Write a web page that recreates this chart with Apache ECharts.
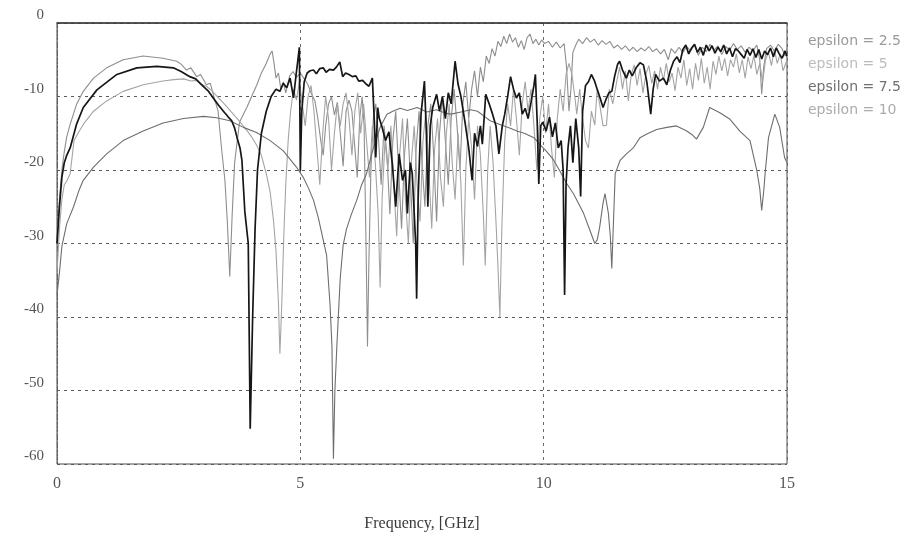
<!DOCTYPE html>
<html>
<head>
<meta charset="utf-8">
<script src="https://cdn.jsdelivr.net/npm/echarts@6/dist/echarts.min.js"></script>
<style>html,body{margin:0;padding:0;background:#fff}#c{width:916px;height:537px}</style>
</head>
<body>
<div id="c"></div>
<script>
const seriesNames = ['epsilon = 2.5', 'epsilon = 5', 'epsilon = 7.5', 'epsilon = 10'];
const xTicks = [0, 5, 10, 15];
const yTicks = [0, -10, -20, -30, -40, -50, -60];

const eps25 = [[0,-30],[0.05,-24],[0.1,-20],[0.15,-17.5],[0.2,-15.5],[0.27,-13.8],[0.4,-11.1],[0.54,-9.3],[0.75,-7.5],[1.02,-6.1],[1.36,-5.0],[1.77,-4.5],[2.18,-4.8],[2.46,-5.2],[2.55,-5.6],[2.66,-6.4],[2.75,-6.1],[2.87,-7.3],[2.95,-7.0],[3.07,-8.4],[3.15,-8.2],[3.21,-9.7],[3.31,-12],[3.38,-17],[3.45,-21.4],[3.5,-27],[3.55,-34.5],[3.6,-26],[3.65,-19],[3.75,-13.5],[3.9,-11.5],[4.0,-10],[4.1,-8.5],[4.2,-6.8],[4.3,-5.5],[4.38,-4.2],[4.42,-3.8],[4.46,-5.5],[4.5,-7.5],[4.55,-6.8],[4.6,-9],[4.65,-8],[4.7,-9.5],[4.78,-7.2],[4.85,-6.6],[4.92,-7.4],[5.0,-6.8],[5.08,-7.6],[5.15,-8.3],[5.22,-9.5],[5.3,-10.6],[5.36,-13],[5.42,-16],[5.47,-18],[5.52,-14],[5.58,-11],[5.64,-10],[5.7,-12.5],[5.76,-10.8],[5.82,-15],[5.88,-19.5],[5.94,-12],[6.0,-10.5],[6.06,-12],[6.12,-17],[6.17,-21],[6.22,-13],[6.27,-10],[6.31,-14],[6.35,-30],[6.38,-44],[6.41,-32],[6.45,-20],[6.5,-13],[6.55,-11],[6.6,-15],[6.66,-22],[6.72,-14],[6.78,-18],[6.84,-26],[6.9,-16],[6.96,-12],[7.02,-20],[7.08,-28],[7.14,-18],[7.2,-13],[7.26,-21],[7.32,-30],[7.38,-17],[7.44,-12],[7.5,-19],[7.56,-25],[7.62,-14],[7.68,-11],[7.74,-18],[7.8,-27],[7.86,-15],[7.92,-10],[7.98,-16],[8.04,-22],[8.1,-13],[8.16,-9],[8.22,-14],[8.28,-20],[8.34,-11],[8.4,-8],[8.46,-13],[8.52,-9],[8.58,-6.5],[8.64,-10],[8.7,-6],[8.76,-8],[8.82,-4.5],[8.88,-5.5],[8.94,-3.5],[9.0,-4.5],[9.06,-2.5],[9.12,-3.2],[9.18,-1.8],[9.24,-2.8],[9.3,-1.5],[9.36,-2.6],[9.42,-2],[9.48,-3.3],[9.54,-2.4],[9.6,-3.6],[9.66,-2],[9.72,-1.5],[9.78,-2.8],[9.84,-2.2],[9.9,-3],[9.96,-2.3],[10.02,-2.8],[10.1,-2.5],[10.18,-3.3],[10.26,-2.6],[10.34,-3.4],[10.42,-2.8],[10.47,-6],[10.52,-12],[10.56,-9],[10.6,-4],[10.66,-3],[10.72,-2.2],[10.8,-2.8],[10.88,-2],[10.96,-2.6],[11.04,-2.2],[11.12,-3],[11.2,-2.4],[11.28,-2.9],[11.36,-2.5],[11.44,-3.4],[11.52,-3],[11.6,-3.6],[11.68,-3.1],[11.76,-3.8],[11.84,-3.3],[11.92,-3.9],[12.0,-3.4],[12.08,-3.8],[12.16,-3.2],[12.24,-3.9],[12.32,-3.5],[12.4,-4.2],[12.48,-3.6],[12.56,-5],[12.62,-3.5],[12.7,-4.1],[12.78,-3.3],[12.86,-4],[12.94,-3.2],[13.02,-3.8],[13.1,-3],[13.18,-4.4],[13.26,-3.3],[13.34,-3.9],[13.42,-2.9],[13.5,-3.7],[13.58,-3.1],[13.66,-4.3],[13.74,-3.2],[13.82,-3.7],[13.9,-2.8],[13.98,-3.6],[14.06,-3.1],[14.14,-4],[14.22,-3.3],[14.3,-3.8],[14.38,-3],[14.44,-5],[14.48,-9.7],[14.52,-6],[14.58,-3.5],[14.66,-3],[14.74,-3.8],[14.82,-2.9],[14.9,-3.5],[14.96,-4.5],[15,-3.5]];

const eps5 = [[0,-34],[0.05,-28],[0.1,-24],[0.15,-22],[0.2,-21.5],[0.27,-20.5],[0.35,-16],[0.45,-14.8],[0.54,-13.8],[0.75,-12],[1.02,-10.6],[1.36,-9.3],[1.77,-8.4],[2.18,-7.9],[2.4,-7.7],[2.6,-7.6],[2.75,-7.9],[2.87,-7.8],[2.95,-8.3],[3.07,-8.6],[3.18,-9.2],[3.28,-9.9],[3.38,-10.6],[3.48,-11.3],[3.58,-12.1],[3.69,-12.9],[3.8,-13.8],[3.9,-14.6],[4.0,-15.5],[4.1,-16.6],[4.2,-18],[4.3,-20.5],[4.38,-23],[4.45,-27],[4.5,-31],[4.55,-38],[4.58,-45],[4.62,-38],[4.66,-29],[4.7,-22],[4.75,-16],[4.8,-12],[4.86,-9],[4.92,-10.5],[4.98,-8],[5.04,-11],[5.1,-14],[5.16,-10],[5.22,-8.5],[5.28,-12],[5.34,-17],[5.4,-22],[5.46,-15],[5.52,-10],[5.58,-13],[5.64,-20],[5.7,-15],[5.76,-11],[5.82,-14],[5.88,-11],[5.94,-9.5],[6.0,-13],[6.06,-18],[6.12,-12],[6.18,-9.5],[6.24,-15],[6.3,-11],[6.36,-16],[6.42,-21],[6.48,-14],[6.54,-19],[6.6,-26],[6.64,-36],[6.68,-24],[6.74,-16],[6.8,-20],[6.86,-14],[6.92,-22],[6.98,-29],[7.04,-18],[7.1,-13],[7.16,-24],[7.22,-30],[7.28,-19],[7.34,-14],[7.4,-22],[7.46,-27],[7.52,-16],[7.58,-12],[7.64,-20],[7.7,-28],[7.76,-17],[7.82,-13],[7.88,-21],[7.94,-25],[8.0,-15],[8.06,-11],[8.12,-19],[8.18,-24],[8.24,-15],[8.3,-22],[8.35,-33],[8.4,-20],[8.46,-13],[8.52,-17],[8.58,-24],[8.64,-14],[8.7,-18],[8.76,-26],[8.8,-33],[8.85,-20],[8.9,-14],[8.96,-19],[9.02,-27],[9.06,-33],[9.1,-40],[9.14,-28],[9.2,-16],[9.26,-11],[9.32,-14],[9.38,-9],[9.44,-13],[9.5,-18],[9.56,-11],[9.62,-8],[9.68,-12],[9.74,-9],[9.8,-14],[9.86,-20],[9.92,-13],[9.98,-10],[10.04,-15],[10.1,-11],[10.16,-17],[10.22,-21],[10.28,-13],[10.34,-9],[10.4,-12],[10.46,-7],[10.52,-5.5],[10.58,-7],[10.64,-10],[10.68,-12.4],[10.74,-9],[10.8,-13],[10.86,-16],[10.92,-17],[10.98,-12],[11.05,-13.9],[11.1,-9],[11.15,-11],[11.22,-14],[11.29,-13.9],[11.35,-9],[11.42,-11],[11.5,-8],[11.56,-6],[11.62,-9],[11.68,-6.5],[11.74,-10.6],[11.8,-7],[11.86,-5.7],[11.92,-8.5],[11.98,-6.2],[12.04,-9.5],[12.1,-7],[12.16,-5.8],[12.22,-8.2],[12.28,-6.5],[12.34,-9],[12.4,-6],[12.46,-7.8],[12.52,-5.5],[12.58,-8],[12.64,-6.8],[12.7,-9.2],[12.76,-6],[12.82,-7.5],[12.88,-5],[12.94,-8.5],[13.0,-6.2],[13.06,-9],[13.12,-5.5],[13.18,-7.8],[13.24,-4.8],[13.3,-8.2],[13.36,-6],[13.42,-9],[13.48,-5.2],[13.54,-7],[13.6,-4.5],[13.66,-6.5],[13.72,-4.8],[13.78,-7.2],[13.84,-5],[13.9,-6],[13.96,-4.2],[14.02,-6.8],[14.08,-5],[14.14,-7.5],[14.2,-4.6],[14.26,-6.2],[14.32,-4.4],[14.38,-7],[14.44,-5.5],[14.5,-8],[14.56,-5],[14.62,-4],[14.68,-5.8],[14.74,-3.6],[14.8,-5.5],[14.86,-4.2],[14.92,-6.5],[15,-5]];

const eps75 = [[0,-30],[0.05,-25],[0.1,-21],[0.15,-19],[0.2,-18],[0.27,-17],[0.4,-13.8],[0.54,-11.5],[0.82,-9.1],[1.23,-7.0],[1.64,-6.1],[2.05,-5.9],[2.39,-6.1],[2.55,-6.6],[2.73,-7.3],[2.85,-7.6],[3.0,-8.6],[3.1,-9.2],[3.21,-10.2],[3.32,-11.2],[3.42,-12],[3.52,-12.8],[3.59,-13.3],[3.65,-14.3],[3.7,-15.6],[3.76,-17],[3.8,-18.7],[3.86,-25.7],[3.93,-30],[3.97,-55.2],[4.02,-40],[4.07,-28],[4.12,-20],[4.2,-15],[4.3,-12],[4.4,-10],[4.5,-9],[4.58,-9.3],[4.65,-8.2],[4.72,-8.8],[4.79,-7.5],[4.86,-10.2],[4.91,-7.2],[4.95,-5],[4.98,-3.3],[5.0,-20.1],[5.03,-12],[5.08,-8],[5.14,-6.8],[5.2,-6.5],[5.27,-6.4],[5.33,-6.9],[5.4,-6.2],[5.47,-6.1],[5.53,-6.7],[5.6,-6.3],[5.68,-6.4],[5.74,-6.0],[5.81,-5.3],[5.87,-7.3],[5.93,-6.8],[6.0,-7.0],[6.07,-7.3],[6.14,-7.2],[6.2,-7.9],[6.28,-7.8],[6.35,-8.3],[6.41,-8.6],[6.48,-7.5],[6.52,-13.3],[6.55,-18.3],[6.59,-11.5],[6.62,-12.9],[6.68,-14.2],[6.75,-16],[6.82,-14.8],[6.89,-19.2],[6.96,-25],[7.03,-17.8],[7.1,-21.4],[7.16,-20],[7.2,-25.9],[7.26,-19],[7.3,-20.5],[7.34,-25.9],[7.37,-30],[7.39,-37.5],[7.42,-24],[7.48,-12.4],[7.55,-7.9],[7.59,-15],[7.62,-25],[7.67,-14],[7.72,-11.5],[7.8,-9.7],[7.86,-12],[7.92,-10],[7.98,-13],[8.04,-9.5],[8.1,-11],[8.18,-5.2],[8.24,-8.3],[8.3,-10],[8.39,-13.8],[8.46,-17],[8.53,-21.4],[8.58,-15],[8.64,-16.8],[8.7,-14],[8.74,-16.5],[8.81,-9.7],[8.88,-11],[8.95,-12.4],[9.02,-14],[9.08,-17.8],[9.15,-14],[9.2,-12.4],[9.26,-10],[9.32,-7.3],[9.38,-9],[9.44,-10.2],[9.5,-9.5],[9.56,-12.4],[9.62,-11.6],[9.68,-13],[9.74,-10.8],[9.8,-8.5],[9.83,-7],[9.87,-14],[9.9,-21.9],[9.94,-14],[9.98,-13.5],[10.05,-14.7],[10.12,-12.8],[10.18,-15.5],[10.24,-13.6],[10.3,-17],[10.36,-16],[10.4,-20],[10.43,-37],[10.46,-22],[10.5,-17],[10.55,-14],[10.6,-19],[10.66,-13],[10.72,-17],[10.76,-23.6],[10.8,-12],[10.86,-8.5],[10.92,-8],[10.98,-7],[11.04,-7.8],[11.1,-9],[11.16,-10.2],[11.22,-11.5],[11.28,-10.4],[11.34,-9.5],[11.4,-9.3],[11.46,-7.2],[11.52,-5.6],[11.56,-5.2],[11.62,-6.4],[11.7,-7.5],[11.76,-6.4],[11.82,-7.2],[11.9,-6.1],[11.98,-5.4],[12.05,-5.7],[12.12,-8],[12.2,-12.4],[12.25,-9],[12.3,-7],[12.38,-7.9],[12.46,-7.5],[12.53,-8.4],[12.6,-6.5],[12.67,-5.2],[12.74,-4.6],[12.8,-5.4],[12.86,-3.6],[12.92,-3.0],[12.98,-4.2],[13.04,-3.4],[13.1,-2.9],[13.16,-4],[13.22,-3.3],[13.28,-4.4],[13.34,-3],[13.4,-3.8],[13.46,-3.1],[13.52,-4.1],[13.58,-3.3],[13.64,-3.9],[13.7,-3],[13.76,-4.2],[13.82,-3.4],[13.88,-4.6],[13.94,-3.5],[14.0,-3.8],[14.06,-4.3],[14.12,-4.8],[14.18,-3.6],[14.24,-4.4],[14.3,-3.5],[14.36,-4.7],[14.42,-3.6],[14.48,-4.9],[14.54,-3.8],[14.6,-4.3],[14.66,-3.4],[14.72,-4.6],[14.78,-3.4],[14.84,-4.2],[14.9,-4.8],[14.96,-3.8],[15,-4.5]];

const eps10 = [[0,-37],[0.05,-34],[0.1,-30.4],[0.2,-27.3],[0.34,-25],[0.45,-22.8],[0.54,-21.4],[0.75,-19.6],[1.02,-17.8],[1.36,-16],[1.77,-14.7],[2.18,-13.6],[2.6,-13],[3.01,-12.7],[3.28,-12.9],[3.55,-13.3],[3.83,-14.2],[4.1,-14.9],[4.38,-16],[4.65,-17.4],[4.92,-19.6],[5.06,-21],[5.17,-22.5],[5.27,-24.1],[5.37,-26.5],[5.47,-29.5],[5.54,-31.6],[5.61,-38.3],[5.65,-44],[5.68,-59.3],[5.71,-50],[5.75,-44],[5.82,-34.7],[5.88,-30.2],[5.95,-28],[6.05,-26],[6.16,-24.1],[6.26,-22],[6.36,-20.5],[6.5,-17],[6.64,-14.2],[6.78,-12.4],[6.9,-12],[7.05,-11.6],[7.2,-11.9],[7.4,-11.5],[7.6,-12.1],[7.8,-11.8],[8.0,-12.3],[8.1,-12.4],[8.3,-12.1],[8.5,-11.8],[8.64,-12],[8.78,-12.7],[8.9,-13.3],[9.1,-13.8],[9.3,-14.3],[9.45,-14.7],[9.6,-15],[9.8,-15.6],[9.92,-16.5],[10.05,-17.4],[10.2,-18.6],[10.33,-20.1],[10.47,-21.8],[10.61,-23.2],[10.72,-24.6],[10.82,-25.9],[10.95,-28.2],[11.05,-30],[11.1,-29.5],[11.15,-27.8],[11.22,-24.5],[11.26,-23.2],[11.33,-25.9],[11.37,-29],[11.4,-33.4],[11.44,-26],[11.47,-20.5],[11.57,-18.7],[11.7,-17.8],[11.84,-17],[11.98,-15.6],[12.12,-15.1],[12.32,-14.5],[12.53,-14.2],[12.73,-14],[12.94,-14.7],[13.05,-15.2],[13.14,-15.8],[13.28,-14.2],[13.41,-11.5],[13.62,-12.2],[13.83,-13.1],[14.03,-14.7],[14.24,-16],[14.38,-20.1],[14.44,-22.5],[14.48,-25.5],[14.52,-23],[14.55,-20.5],[14.62,-15.6],[14.75,-12.4],[14.85,-14.2],[14.95,-18.3],[15,-19]];

const lineColors = ['#8e8e8e', '#a4a4a4', '#161616', '#6e6e6e'];
const lineWidths = [1.1, 1.1, 1.7, 1.1];
const legendTextColors = ['#9a9a9a', '#bcbcbc', '#707070', '#ababab'];
const seriesData = [eps25, eps5, eps75, eps10];

const chart = echarts.init(document.getElementById('c'), null, {renderer: 'canvas'});
const option = {
  animation: false,
  backgroundColor: '#ffffff',
  grid: {left: 57, right: 129, top: 23, bottom: 70, show: true, borderColor: '#4a4a4a', borderWidth: 1, backgroundColor: 'transparent'},
  legend: {
    orient: 'vertical', left: 798, top: 28, itemWidth: 0, itemHeight: 0, itemGap: 7,
    selectedMode: false,
    data: seriesNames.map((n, i) => ({name: n, icon: 'none', textStyle: {color: legendTextColors[i]}})),
    textStyle: {fontFamily: 'DejaVu Sans', fontSize: 14, lineHeight: 16}
  },
  xAxis: {
    type: 'value', min: xTicks[0], max: xTicks[xTicks.length - 1], interval: 5,
    name: 'Frequency, [GHz]', nameLocation: 'middle', nameGap: 52,
    nameTextStyle: {fontFamily: 'Liberation Serif', fontSize: 16, color: '#3a3a3a'},
    axisLine: {show: true, lineStyle: {color: '#3a3a3a', width: 1.5}},
    axisTick: {show: false},
    axisLabel: {fontFamily: 'Liberation Serif', fontSize: 16, color: '#555', margin: 12},
    splitLine: {show: true, lineStyle: {color: '#6a6a6a', type: [3, 4], width: 1}}
  },
  yAxis: {
    type: 'value', min: yTicks[yTicks.length - 1], max: yTicks[0], interval: 10,
    axisLine: {show: true, lineStyle: {color: '#5a5a5a', type: [2, 2]}},
    axisTick: {show: false},
    axisLabel: {fontFamily: 'Liberation Serif', fontSize: 15, color: '#555', margin: 13, verticalAlign: 'bottom'},
    splitLine: {show: true, lineStyle: {color: '#5a5a5a', type: [3, 4], width: 1}}
  },
  series: seriesNames.map((n, i) => ({
    name: n, type: 'line', data: seriesData[i], showSymbol: false, symbol: 'none',
    z: i === 2 ? 4 : 3,
    lineStyle: {color: lineColors[i], width: lineWidths[i]},
    itemStyle: {color: lineColors[i]}
  }))
};
chart.setOption(option);
</script>
</body>
</html>
